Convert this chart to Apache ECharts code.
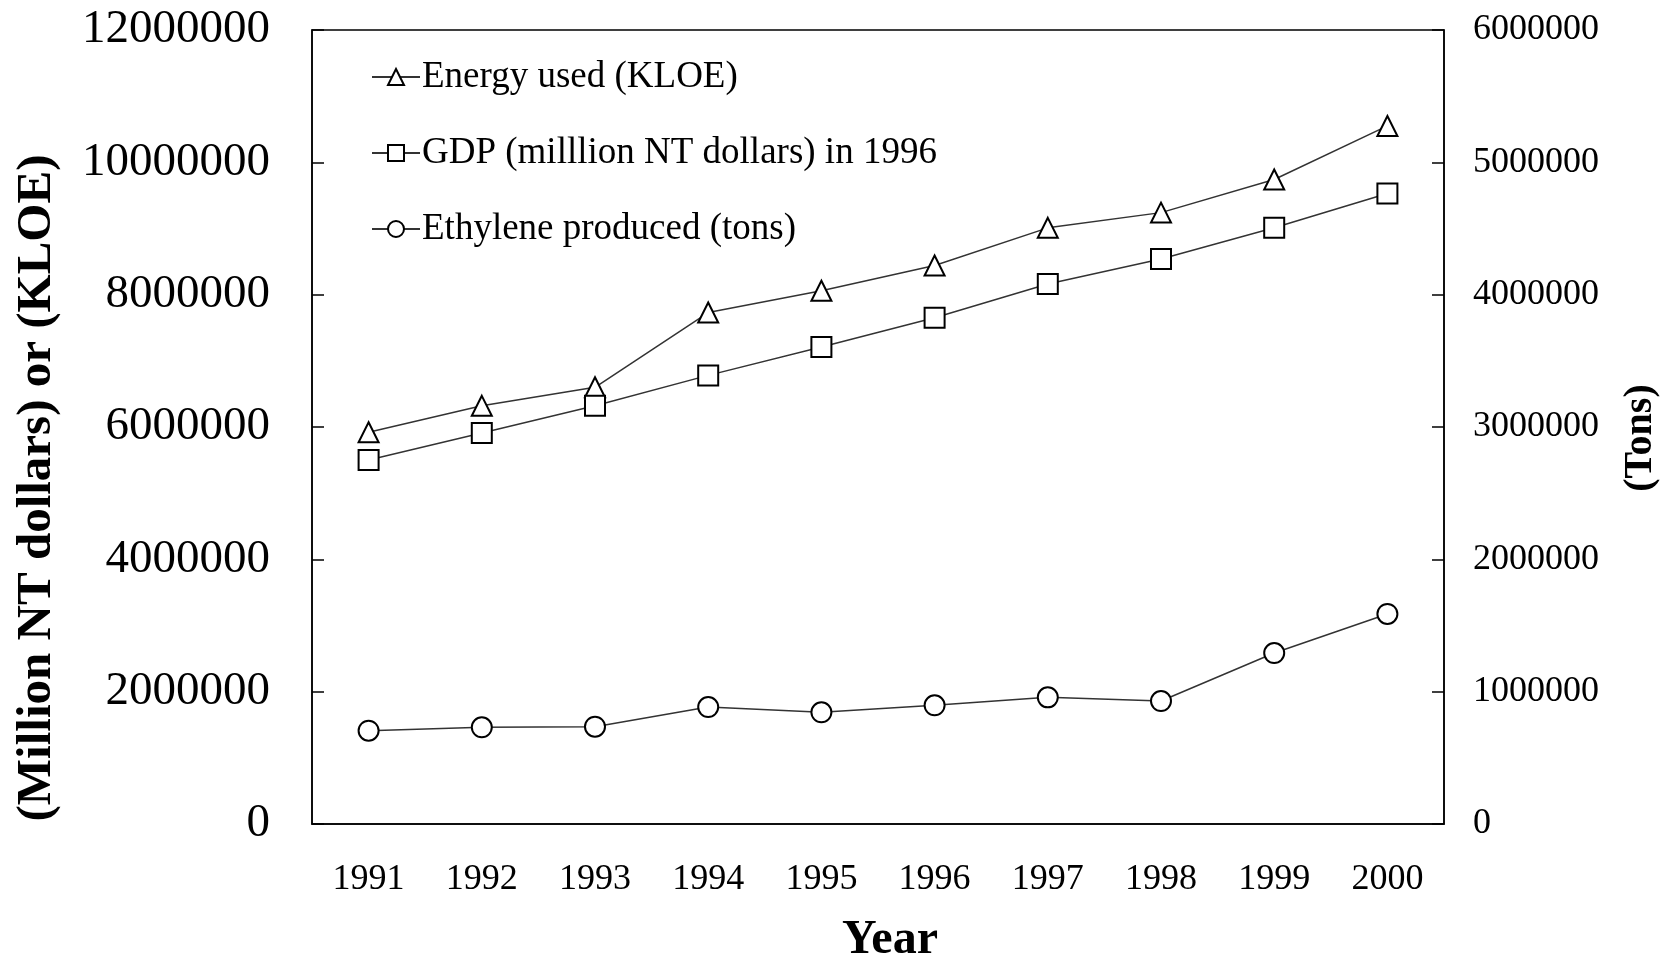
<!DOCTYPE html>
<html>
<head>
<meta charset="utf-8">
<script src="https://cdn.jsdelivr.net/npm/echarts@6/dist/echarts.min.js"></script>
<style>
  html, body { margin: 0; padding: 0; background: #fff; }
  #chart { width: 1662px; height: 960px; }
</style>
</head>
<body>
<div id="chart"></div>
<script>
// data
const years = ['1991', '1992', '1993', '1994', '1995', '1996', '1997', '1998', '1999', '2000']
const energyUsed = [5920000, 6320000, 6600000, 7730000, 8060000, 8440000, 9010000, 9240000, 9740000, 10550000]
const gdp = [5500000, 5910000, 6320000, 6780000, 7210000, 7650000, 8160000, 8540000, 9010000, 9530000]
const ethylene = [705000, 731000, 735000, 884000, 844000, 897000, 957000, 929000, 1292000, 1587000]

const FONT = '"Liberation Serif", "DejaVu Serif", serif'

const chartDom = document.getElementById('chart')
const myChart = echarts.init(chartDom)

// common style for the three lines
const lineSeries = (name, data, symbol, yAxisIndex) => ({
  name: name,
  type: 'line',
  data: data,
  yAxisIndex: yAxisIndex,
  symbol: symbol,
  symbolSize: 20,
  showAllSymbol: true,
  lineStyle: { color: '#333', width: 1.5 },
  itemStyle: { color: '#fff', borderColor: '#000', borderWidth: 2 },
  animation: false
})

const option = {
  backgroundColor: '#fff',
  textStyle: { fontFamily: FONT, color: '#000' },
  grid: {
    left: 312, right: 218, top: 30, bottom: 136,
    show: true, borderColor: '#000', borderWidth: 1.5, backgroundColor: 'transparent'
  },
  legend: {
    orient: 'vertical',
    left: 366,
    top: 52,
    itemWidth: 48,
    itemHeight: 20,
    itemGap: 36,
    textStyle: { fontFamily: FONT, fontSize: 37, color: '#000', lineHeight: 40, padding: [0, 0, 0, -3] },
    data: ['Energy used (KLOE)', 'GDP (milllion NT dollars) in 1996', 'Ethylene produced (tons)']
  },
  xAxis: {
    type: 'category',
    data: years,
    boundaryGap: true,
    axisLine: { lineStyle: { color: '#000', width: 1.5 } },
    axisTick: { inside: true, length: 11, lineStyle: { color: '#000', width: 1.5 } },
    axisLabel: { fontFamily: FONT, fontSize: 36, color: '#000', margin: 38 },
    splitLine: { show: false }
  },
  yAxis: [
    {
      type: 'value',
      min: 0, max: 12000000, interval: 2000000,
      position: 'left',
      axisLine: { show: true, lineStyle: { color: '#000', width: 1.5 } },
      axisTick: { show: true, inside: true, length: 12, lineStyle: { color: '#000', width: 1.5 } },
      axisLabel: { fontFamily: FONT, fontSize: 47, color: '#000', margin: 42, formatter: v => String(v) },
      splitLine: { show: false }
    },
    {
      type: 'value',
      min: 0, max: 6000000, interval: 1000000,
      position: 'right',
      axisLine: { show: true, lineStyle: { color: '#000', width: 1.5 } },
      axisTick: { show: true, inside: true, length: 12, lineStyle: { color: '#000', width: 1.5 } },
      axisLabel: { fontFamily: FONT, fontSize: 36, color: '#000', margin: 29, formatter: v => String(v) },
      splitLine: { show: false }
    }
  ],
  // axis titles placed where the reference has them
  graphic: [
    {
      type: 'text', x: 37, y: 488, rotation: Math.PI / 2,
      style: { text: '(Million NT dollars) or (KLOE)', fontFamily: FONT, fontWeight: 'bold', fontSize: 49, fill: '#000', align: 'center', verticalAlign: 'middle' }
    },
    {
      type: 'text', x: 1641, y: 438, rotation: Math.PI / 2,
      style: { text: '(Tons)', fontFamily: FONT, fontWeight: 'bold', fontSize: 40, fill: '#000', align: 'center', verticalAlign: 'middle' }
    },
    {
      type: 'text', x: 890, y: 941,
      style: { text: 'Year', fontFamily: FONT, fontWeight: 'bold', fontSize: 48, fill: '#000', align: 'center', verticalAlign: 'middle' }
    }
  ],
  series: [
    lineSeries('Energy used (KLOE)', energyUsed, 'triangle', 0),
    lineSeries('GDP (milllion NT dollars) in 1996', gdp, 'rect', 0),
    lineSeries('Ethylene produced (tons)', ethylene, 'circle', 1)
  ]
}
option && myChart.setOption(option)
</script>
</body>
</html>
